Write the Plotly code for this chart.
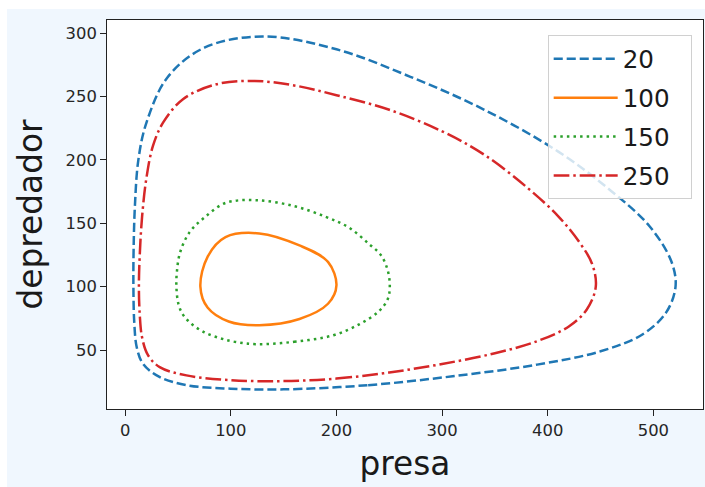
import plotly.graph_objects as go

# Orbits (presa = x, depredador = y)
labels = ["20", "100", "150", "250"]

x_20 = [150, 230, 310, 390, 450, 490, 512, 521, 517, 496, 460, 410, 340, 270, 200, 130,
        75, 40, 20, 12.5, 9.3, 8, 7.8, 8.6, 11, 17, 32, 58, 100, 150]
y_20 = [19, 22.3, 29.3, 38.5, 49, 62.5, 79.5, 100, 120, 148, 175.5, 206.5, 239.5, 265.5,
        287.2, 297.3, 288.5, 265, 229, 200, 165, 130, 100, 72, 52, 39, 29, 22.3, 19.5, 19]

x_100 = [127, 165, 192, 200, 192, 165, 127, 95, 78, 71.2, 78, 98, 127]
y_100 = [69.6, 74.5, 86.5, 101, 119.5, 132.5, 142, 139, 123.5, 100, 83.5, 72.5, 69.6]

x_150 = [124, 160, 196.8, 222, 240, 248.5, 250.5, 248.5, 242, 231, 212, 190, 160, 124, 95,
         75, 61, 52, 49, 48.5, 50.5, 55, 63, 75, 90, 105, 124]
y_150 = [54.6, 56.5, 61.6, 70.5, 80.5, 90, 100, 113, 125, 133.5, 146.5, 155, 163.5, 168.2,
         166, 154.5, 143, 127, 112, 100, 86, 77.5, 70.5, 64, 59.3, 56.3, 54.6]

x_250 = [150, 200, 250, 300, 350, 390, 420, 437, 445.5, 442, 430, 410, 380, 340, 300, 250,
         200, 160, 122.6, 86.4, 55, 36, 26.3, 20, 16, 13.8, 13, 13.8, 16, 21.6, 32.7, 58,
         100, 150]
y_250 = [25.5, 27.5, 32.3, 39, 47.5, 57, 68.6, 82, 100, 118, 135, 155.5, 178.5, 204, 222.5,
         239.5, 251, 258.7, 262.2, 259.6, 248, 229.5, 211, 185, 155, 125, 100, 78, 60, 46,
         36.5, 30, 26.2, 25.5]

series_x = [x_20, x_100, x_150, x_250]
series_y = [y_20, y_100, y_150, y_250]
colors = ["#1f77b4", "#ff7f0e", "#2ca02c", "#d62728"]
dashes = ["9.1px,3.9px", "solid", "2.5px,4.1px", "15.7px,3.9px,2.5px,3.9px"]

fig = go.Figure()
for lab, xs, ys, c, d in zip(labels, series_x, series_y, colors, dashes):
    fig.add_trace(go.Scatter(
        x=xs, y=ys, mode="lines", name=lab + "\u00a0\u00a0", legendgroup=lab,
        line=dict(color=c, width=2.5, dash=d, shape="spline", smoothing=1.0),
    ))

L, R, T, B = 107, 2, 20, 78
W, H = 705, 487
pw = W - L - R
ph = H - T - B

fig.update_layout(
    width=W, height=H,
    margin=dict(l=L, r=R, t=T, b=B),
    paper_bgcolor="#f0f7fe",
    plot_bgcolor="white",
    font=dict(family="DejaVu Sans", color="#262626"),
    showlegend=True,
    legend=dict(
        x=0.981, xanchor="right", y=0.961, yanchor="top",
        bgcolor="rgba(255,255,255,0.8)", bordercolor="#d0d0d0", borderwidth=1,
        font=dict(size=24.6, family="DejaVu Sans", color="#1a1a1a"),
        itemwidth=64, tracegroupgap=4,
    ),
    xaxis=dict(
        range=[-17.2, 547], tickvals=[0, 100, 200, 300, 400, 500],
        showline=True, mirror=True, linecolor="#222", linewidth=1.3,
        ticks="outside", ticklen=5.7, tickwidth=1.3, tickcolor="#222",
        tickfont=dict(size=16.4, color="#262626"),
        showgrid=False, zeroline=False,
        title=dict(text="presa", font=dict(size=32.8, color="#1a1a1a"), standoff=13),
    ),
    yaxis=dict(
        range=[3.5, 310.3], tickvals=[50, 100, 150, 200, 250, 300],
        showline=True, mirror=True, linecolor="#222", linewidth=1.3,
        ticks="outside", ticklen=5.7, tickwidth=1.3, tickcolor="#222",
        tickfont=dict(size=16.4, color="#262626"),
        showgrid=False, zeroline=False,
        title=dict(text="depredador", font=dict(size=32.8, color="#1a1a1a"), standoff=13),
    ),
    shapes=[
        dict(type="rect", xref="paper", yref="paper", layer="below",
             x0=-L / pw - 0.01, x1=(7 - L) / pw, y0=-B / ph - 0.01, y1=(H - T + 1) / ph + 0.01,
             fillcolor="white", line=dict(width=0)),
        dict(type="rect", xref="paper", yref="paper", layer="below",
             x0=-L / pw - 0.01, x1=(W - L) / pw + 0.01, y0=(H - B - 9) / ph, y1=(H - B) / ph + 0.01,
             fillcolor="white", line=dict(width=0)),
    ],
)

fig.write_html("out.html")
